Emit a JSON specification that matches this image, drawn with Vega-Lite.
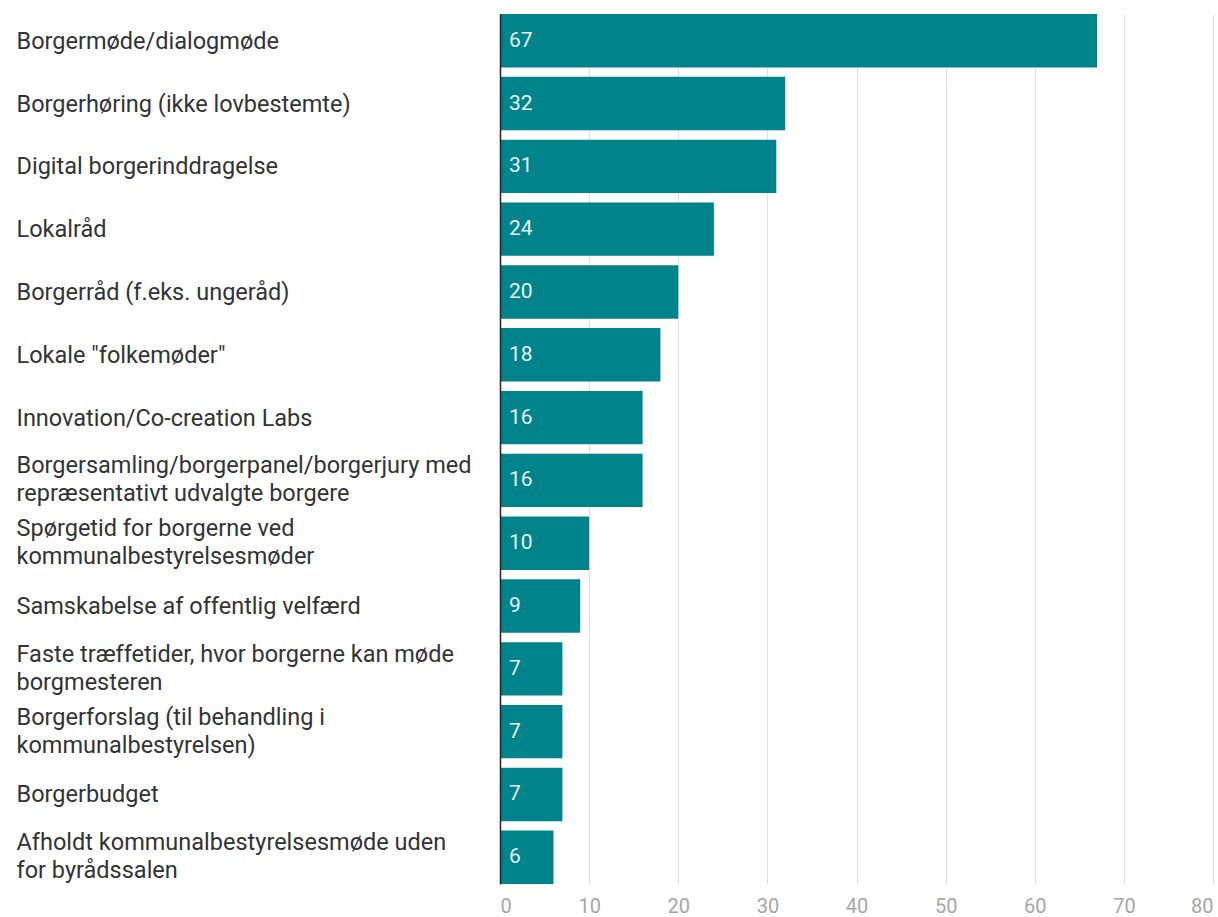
{
  "$schema": "https://vega.github.io/schema/vega-lite/v6.json",
  "autosize": {"type": "none"},
  "padding": {"left": 500, "top": 14, "right": 5, "bottom": 33},
  "width": 713,
  "height": 870,
  "config": {
    "view": {"stroke": null},
    "font": "Roboto"
  },
  "data": {
    "values": [
      {"label": "Borgermøde/dialogmøde", "value": 67},
      {"label": "Borgerhøring (ikke lovbestemte)", "value": 32},
      {"label": "Digital borgerinddragelse", "value": 31},
      {"label": "Lokalråd", "value": 24},
      {"label": "Borgerråd (f.eks. ungeråd)", "value": 20},
      {"label": "Lokale \"folkemøder\"", "value": 18},
      {"label": "Innovation/Co-creation Labs", "value": 16},
      {"label": "Borgersamling/borgerpanel/borgerjury med\nrepræsentativt udvalgte borgere", "value": 16},
      {"label": "Spørgetid for borgerne ved\nkommunalbestyrelsesmøder", "value": 10},
      {"label": "Samskabelse af offentlig velfærd", "value": 9},
      {"label": "Faste træffetider, hvor borgerne kan møde\nborgmesteren", "value": 7},
      {"label": "Borgerforslag (til behandling i\nkommunalbestyrelsen)", "value": 7},
      {"label": "Borgerbudget", "value": 7},
      {"label": "Afholdt kommunalbestyrelsesmøde uden\nfor byrådssalen", "value": 6}
    ]
  },
  "encoding": {
    "y": {
      "field": "label",
      "type": "nominal",
      "sort": null,
      "scale": {"paddingInner": 0.15, "paddingOuter": 0},
      "axis": {
        "title": null,
        "labelAlign": "left",
        "labelBaseline": "middle",
        "labelPadding": 484,
        "ticks": false,
        "tickSize": 0,
        "labelExpr": "split(datum.label, '\\n')",
        "labelOffset": {"condition": {"test": "indexof(datum.value, '\\n') >= 0", "value": -14}, "value": 1},
        "labelFontSize": 23.5,
        "labelLineHeight": 28,
        "labelColor": "#333333",
        "labelLimit": 495,
        "domain": true,
        "domainColor": "#222222",
        "domainWidth": 1.5,
        "zindex": 2
      }
    },
    "x": {
      "field": "value",
      "type": "quantitative",
      "scale": {"domain": [0, 80], "nice": false},
      "axis": {
        "title": null,
        "values": [0, 10, 20, 30, 40, 50, 60, 70, 80],
        "domain": false,
        "ticks": false,
        "labelPadding": 12,
        "labelFontSize": 20,
        "labelColor": "#a6a6a6",
        "gridColor": "#e0e0e0",
        "gridWidth": 1
      }
    }
  },
  "layer": [
    {"mark": {"type": "bar", "color": "#00838a"}},
    {
      "mark": {"type": "text", "align": "left", "dx": 9, "fontSize": 21, "color": "#e6f3f3", "baseline": "middle"},
      "encoding": {
        "x": {"datum": 0, "type": "quantitative"},
        "text": {"field": "value", "type": "quantitative"}
      }
    }
  ]
}
